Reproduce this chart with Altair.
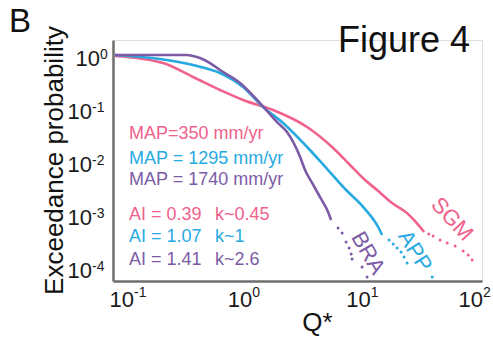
import altair as alt
import pandas as pd

PINK = "#F0628C"
BLUE = "#27A9E1"
PURPLE = "#7C5BA6"

# SGM (pink) solid line and dotted tail
sgm_q = [0.079, 0.2017, 0.3617, 0.6115, 0.957, 1.717, 3.327, 5.523, 7.674, 10.28, 12.98, 17.39, 23.27, 30.02, 32.43]
sgm_p = [0.96, 0.706, 0.385, 0.219, 0.1416, 0.0917, 0.0438, 0.0176, 0.0084, 0.00438, 0.00284, 0.00161, 0.00104, 0.000569, 0.000457]
sgm_dot_q = [35.5, 38.65, 44.25, 50.78, 59.27, 69.30, 76.42, 82.53]
sgm_dot_p = [0.00042, 0.000385, 0.000323, 0.000284, 0.000249, 0.0002, 0.000168, 0.000135]

# APP (blue)
app_q = [0.079, 0.1903, 0.3617, 0.6115, 0.957, 1.413, 2.085, 3.327, 5.006, 7.106, 9.90, 13.26, 14.32]
app_p = [1.0, 0.840, 0.648, 0.457, 0.249, 0.1045, 0.0521, 0.0184, 0.00676, 0.00284, 0.00136, 0.000569, 0.000402]
app_dot_q = [16.40, 17.76, 19.17, 20.72, 21.96, 23.27, 37.93]
app_dot_p = [0.000323, 0.000272, 0.000228, 0.000192, 0.000155, 0.000119, 0.0000648]

# BRA (purple)
bra_q = [0.079, 0.3218, 0.3615, 0.4141, 0.5035, 0.6115, 0.903, 1.331, 1.855, 2.252, 2.905, 3.197, 3.670, 4.280, 5.006, 5.306]
bra_p = [1.0, 1.0, 0.957, 0.878, 0.706, 0.521, 0.296, 0.124, 0.0544, 0.0352, 0.0119, 0.00676, 0.00385, 0.00209, 0.00109, 0.00077]
bra_dot_q = [6.078, 6.58, 7.106, 7.534, 7.837, 7.985, 9.694, 10.69]
bra_dot_p = [0.000544, 0.000438, 0.000296, 0.000228, 0.000176, 0.000142, 0.0001, 0.0000648]

# annotations
ann_text = ["MAP=350 mm/yr", "MAP = 1295 mm/yr", "MAP = 1740 mm/yr",
            "AI = 0.39", "AI = 1.07", "AI = 1.41",
            "k~0.45", "k~1", "k~2.6"]
ann_q = [0.1041, 0.1041, 0.1041, 0.1041, 0.1041, 0.1041, 0.5546, 0.5546, 0.5546]
ann_p = [0.026, 0.00877, 0.00352, 0.00077, 0.000296, 0.000109, 0.00077, 0.000296, 0.000109]
ann_color = [PINK, BLUE, PURPLE, PINK, BLUE, PURPLE, PINK, BLUE, PURPLE]

lab_text = ["SGM", "APP", "BRA"]
lab_q = [55.89, 27.22, 10.90]
lab_p = [0.000805, 0.0002, 0.000184]
lab_angle = [47, 58, 60]
lab_color = [PINK, BLUE, PURPLE]

# tick labels (base 10 with exponents)
x_ticks = [0.1, 1, 10, 100]
x_exps = ["-1", "0", "1", "2"]
y_ticks = [1, 0.1, 0.01, 0.001, 0.0001]
y_exps = ["0", "-1", "-2", "-3", "-4"]

lines = pd.concat([
    pd.DataFrame({"q": sgm_q, "p": sgm_p, "s": "SGM", "c": PINK}),
    pd.DataFrame({"q": app_q, "p": app_p, "s": "APP", "c": BLUE}),
    pd.DataFrame({"q": bra_q, "p": bra_p, "s": "BRA", "c": PURPLE}),
])
dots = pd.concat([
    pd.DataFrame({"q": sgm_dot_q, "p": sgm_dot_p, "s": "SGM", "c": PINK}),
    pd.DataFrame({"q": app_dot_q, "p": app_dot_p, "s": "APP", "c": BLUE}),
    pd.DataFrame({"q": bra_dot_q, "p": bra_dot_p, "s": "BRA", "c": PURPLE}),
])
ann = pd.DataFrame({"t": ann_text, "q": ann_q, "p": ann_p, "c": ann_color})
labs = pd.DataFrame({"t": lab_text, "q": lab_q, "p": lab_p, "a": lab_angle, "c": lab_color})
xt = pd.DataFrame({"v": x_ticks, "e": x_exps, "b": "10"})
yt = pd.DataFrame({"v": y_ticks, "e": y_exps, "b": "10"})

FONT = "Liberation Sans"
INK = "#1a1a1a"

xscale = alt.Scale(type="log", domain=[0.0762, 100], nice=False)
yscale = alt.Scale(type="log", domain=[5.45e-5, 1.92], nice=False)

xaxis = alt.Axis(
    values=x_ticks, grid=False, ticks=False, tickSize=0, labels=False,
    domainColor="#6e6e6e", domainWidth=2.5,
    title="Q*", titleFont=FONT, titleFontSize=26, titleFontWeight="normal", titleColor="#111111",
    titleX=204, titleY=49, titleAlign="center", titleBaseline="alphabetic",
)
yaxis = alt.Axis(
    values=y_ticks, grid=False, ticks=False, tickSize=0, labels=False,
    domainColor="#6e6e6e", domainWidth=2.5,
    title="Exceedance probability", titleFont=FONT, titleFontSize=26, titleFontWeight="normal",
    titleColor="#111111", titleAngle=-90, titleX=-51, titleY=120, titleAlign="center",
    titleBaseline="alphabetic",
)

base_line = alt.Chart(lines).mark_line(strokeWidth=2.6, interpolate="monotone").encode(
    x=alt.X("q:Q", scale=xscale, axis=xaxis),
    y=alt.Y("p:Q", scale=yscale, axis=yaxis),
    color=alt.Color("c:N", scale=None),
    detail="s:N",
)

dot_layer = alt.Chart(dots).mark_circle(size=9, opacity=1).encode(
    x=alt.X("q:Q", scale=xscale),
    y=alt.Y("p:Q", scale=yscale),
    color=alt.Color("c:N", scale=None),
)

ann_layer = alt.Chart(ann).mark_text(font=FONT, fontSize=18, align="left", baseline="alphabetic").encode(
    x=alt.X("q:Q", scale=xscale),
    y=alt.Y("p:Q", scale=yscale),
    text="t:N",
    color=alt.Color("c:N", scale=None),
)

lab_layer = alt.Chart(labs).mark_text(font=FONT, fontSize=22, align="center", baseline="middle").encode(
    x=alt.X("q:Q", scale=xscale),
    y=alt.Y("p:Q", scale=yscale),
    text="t:N",
    angle=alt.Angle("a:Q", scale=None),
    color=alt.Color("c:N", scale=None),
)


def x_label_layers(cond, shift):
    src = alt.Chart(xt).transform_filter(cond)
    base = src.mark_text(font=FONT, fontSize=22, align="right", baseline="alphabetic",
                         color=INK, dx=shift, dy=0).encode(
        x=alt.X("v:Q", scale=xscale), y=alt.value(241 + 26), text="b:N")
    sup = src.mark_text(font=FONT, fontSize=14, align="left", baseline="alphabetic",
                        color=INK, dx=shift).encode(
        x=alt.X("v:Q", scale=xscale), y=alt.value(241 + 16), text="e:N")
    return [base, sup]


def y_label_layers(cond, right):
    src = alt.Chart(yt).transform_filter(cond)
    base = src.mark_text(font=FONT, fontSize=22, align="right", baseline="alphabetic",
                         color=INK, dy=11).encode(
        x=alt.value(right), y=alt.Y("v:Q", scale=yscale), text="b:N")
    sup = src.mark_text(font=FONT, fontSize=14, align="left", baseline="alphabetic",
                        color=INK, dy=4).encode(
        x=alt.value(right), y=alt.Y("v:Q", scale=yscale), text="e:N")
    return [base, sup]


tick_layers = (
    x_label_layers("datum.v < 50", 7)
    + x_label_layers("datum.v >= 50", 1)
    + y_label_layers("datum.v > 0.5", -13)
    + y_label_layers("datum.v < 0.5", -21)
)

panel_letter = alt.Chart(pd.DataFrame({"t": ["B"]})).mark_text(
    font=FONT, fontSize=33, align="left", baseline="alphabetic", color="#111111"
).encode(x=alt.value(-104), y=alt.value(-8), text="t:N")

fig_title = alt.Chart(pd.DataFrame({"t": ["Figure 4"]})).mark_text(
    font=FONT, fontSize=36, align="left", baseline="alphabetic", color="#111111"
).encode(x=alt.value(225), y=alt.value(12), text="t:N")

chart = alt.layer(base_line, dot_layer, ann_layer, lab_layer, *tick_layers, panel_letter, fig_title).properties(
    width=369, height=241,
    autosize=alt.AutoSizeParams(type="none"),
    padding={"left": 113, "top": 40, "right": 11, "bottom": 56},
).configure_view(stroke=None).configure(background="white")

chart.save("out.html", embed_options={"renderer": "svg", "actions": False})
